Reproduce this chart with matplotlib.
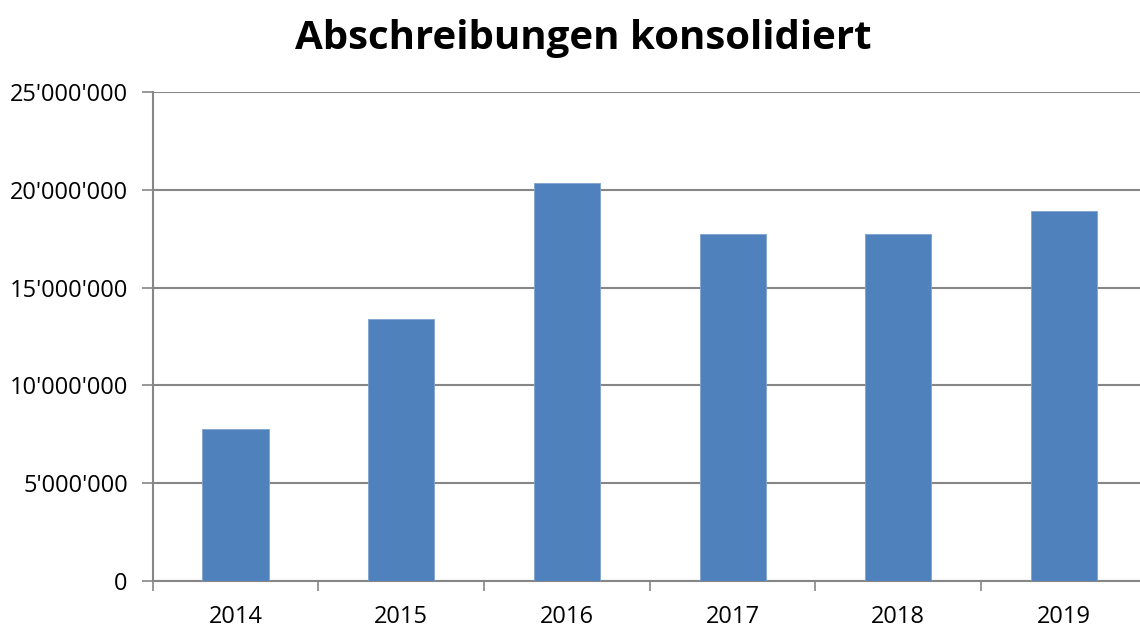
import matplotlib.pyplot as plt
from matplotlib.ticker import FuncFormatter, MultipleLocator

years = ["2014", "2015", "2016", "2017", "2018", "2019"]
abschreibungen = [7760000, 13380000, 20340000, 17740000, 17730000, 18940000]

plt.rcParams['font.family'] = ['Open Sans', 'DejaVu Sans']

fig = plt.figure(figsize=(11.4, 6.28), dpi=100)
# axes runs a little past the right edge, like the original
ax = fig.add_axes([0.134, 0.075, 0.872, 0.778])

x = list(range(len(years)))
ax.bar(x, abschreibungen, width=0.4, color="#4F81BD", edgecolor="#7FA3D0", linewidth=0.6, zorder=3)

ax.set_xlim(-0.5, len(years) - 0.5)
ax.set_ylim(0, 25000000)
ax.yaxis.set_major_locator(MultipleLocator(5000000))
ax.yaxis.set_major_formatter(FuncFormatter(lambda v, p: f"{int(v):,}".replace(",", "'")))
ax.grid(axis="y", color="#868686", linewidth=1.5, zorder=0)

# year labels in the middle, ticks between the categories
ax.set_xticks(x)
ax.set_xticklabels(years)
ax.tick_params(axis="x", length=0, pad=17)
ax.set_xticks([i - 0.5 for i in range(len(years) + 1)], minor=True)
ax.tick_params(axis="x", which="minor", length=7, width=1.2, color="#868686")
ax.tick_params(axis="y", length=8, width=1.2, color="#868686", pad=10)
ax.tick_params(labelsize=17)

for side in ["top", "right"]:
    ax.spines[side].set_visible(False)
for side in ["left", "bottom"]:
    ax.spines[side].set_color("#868686")
    ax.spines[side].set_linewidth(1.5)

fig.suptitle("Abschreibungen konsolidiert", x=0.512, y=0.97, fontsize=29, fontweight="bold")

fig.savefig("out.png", dpi=100)
